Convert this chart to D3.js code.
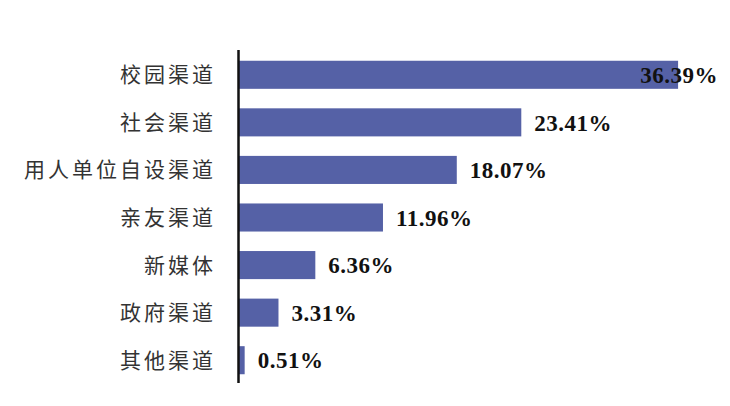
<!DOCTYPE html>
<html>
<head>
<meta charset="utf-8">
<script src="https://cdn.jsdelivr.net/npm/d3@7"></script>
<style>
  body { margin: 0; background: #fff; }
  svg { display: block; }
</style>
</head>
<body>
<svg id="chart" width="730" height="406"></svg>
<script>
const categories = ['校园渠道', '社会渠道', '用人单位自设渠道', '亲友渠道', '新媒体', '政府渠道', '其他渠道'];
const shares = [36.39, 23.41, 18.07, 11.96, 6.36, 3.31, 0.51];

const W = 730, H = 406;
const axisX = 238.5;
const svg = d3.select('#chart');

const x = d3.scaleLinear().domain([0, 40]).range([axisX, axisX + 40 * 12.08]);
const y = d3.scaleBand().domain(categories).range([51, 384])
	.paddingInner(0.41).paddingOuter(0.205);

// bars
svg.append('g').selectAll('rect')
	.data(shares)
	.join('rect')
	.attr('x', x(0))
	.attr('y', (d, i) => y(categories[i]))
	.attr('width', d => x(d) - x(0))
	.attr('height', y.bandwidth())
	.attr('fill', '#5561a6');

// category labels
svg.append('g').selectAll('text')
	.data(categories)
	.join('text')
	.attr('x', 216)
	.attr('y', d => y(d) + y.bandwidth() / 2)
	.attr('dy', '0.36em')
	.attr('text-anchor', 'end')
	.style('font-family', '"Noto Sans CJK SC", sans-serif')
	.style('font-size', '21px')
	.style('letter-spacing', '3px')
	.style('fill', '#333')
	.text(d => d);

// value labels, pulled back inside the frame when they would run off
const vals = svg.append('g').selectAll('text')
	.data(shares)
	.join('text')
	.attr('y', (d, i) => y(categories[i]) + y.bandwidth() / 2)
	.attr('dy', '0.36em')
	.style('font-family', '"Liberation Serif", "Times New Roman", serif')
	.style('font-weight', 'bold')
	.style('font-size', '23px')
	.style('letter-spacing', '0.5px')
	.style('fill', '#111')
	.text(d => d.toFixed(2) + '%');

vals.each(function(d) {
	const len = this.getComputedTextLength();
	let left = x(d) + 13;
	if (left + len > 718) left = 718 - len;
	d3.select(this).attr('x', left);
});

// axis line
svg.append('line')
	.attr('x1', axisX).attr('x2', axisX)
	.attr('y1', 50).attr('y2', 383)
	.attr('stroke', '#111')
	.attr('stroke-width', 2.5);
</script>
</body>
</html>
